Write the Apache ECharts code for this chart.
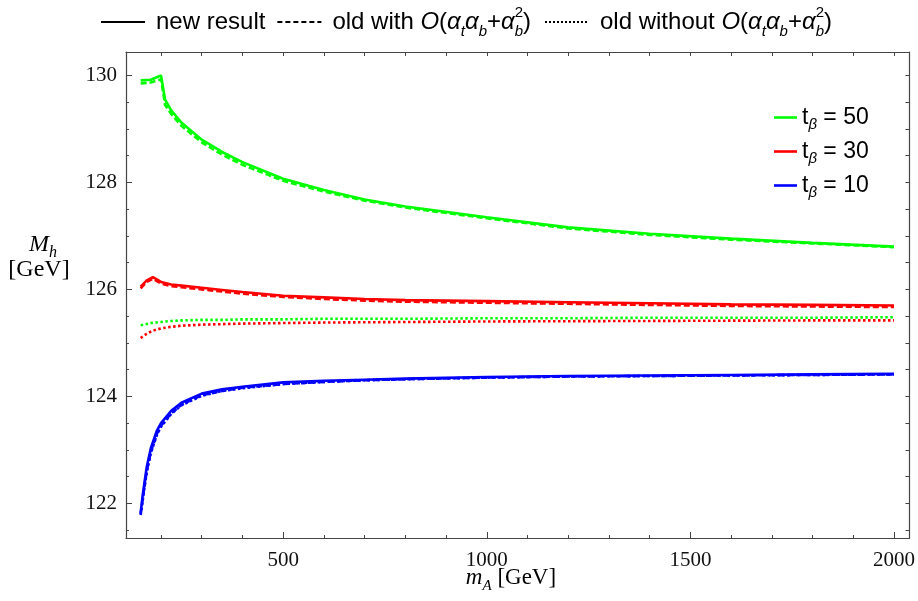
<!DOCTYPE html>
<html><head><meta charset="utf-8">
<script src="https://cdn.jsdelivr.net/npm/echarts@6/dist/echarts.min.js"></script>
<style>html,body{margin:0;padding:0;background:#fff}#c{width:918px;height:601px}</style>
</head><body><div id="c"></div>
<script>
// ---- data ----
const tbValues = [50, 30, 10];
const mA_g = [150,175,200,210,225,250,300,350,400,500,600,700,800,1000,1200,1400,1600,1800,2000];
const g_new        = [129.91,129.92,130.00,129.55,129.35,129.12,128.80,128.57,128.38,128.07,127.86,127.68,127.55,127.35,127.16,127.04,126.95,126.87,126.80];
const g_oldWith    = [129.85,129.87,129.93,129.45,129.28,129.06,128.75,128.52,128.33,128.03,127.83,127.66,127.53,127.33,127.14,127.02,126.93,126.86,126.79];
const g_oldWithout = [125.33,125.37,125.39,125.40,125.41,125.42,125.43,125.43,125.44,125.44,125.45,125.45,125.45,125.46,125.46,125.47,125.47,125.47,125.48];

const mA_r = [150,165,180,200,225,250,300,350,400,500,600,700,800,1000,1200,1400,1600,1800,2000];
const r_new        = [126.05,126.17,126.23,126.14,126.09,126.07,126.03,125.99,125.95,125.88,125.85,125.82,125.80,125.78,125.76,125.74,125.72,125.71,125.70];
const r_oldWith    = [126.02,126.14,126.20,126.11,126.06,126.04,126.00,125.96,125.92,125.86,125.82,125.79,125.77,125.75,125.73,125.71,125.69,125.68,125.67];
const r_oldWithout = [125.09,125.17,125.23,125.27,125.30,125.32,125.34,125.35,125.36,125.37,125.38,125.385,125.39,125.40,125.405,125.41,125.415,125.42,125.42];

const mA_b = [150,155,160,165,175,190,200,225,250,300,350,400,500,600,700,800,1000,1200,1400,1600,1800,2000];
const b_new        = [121.82,122.15,122.42,122.68,123.03,123.36,123.50,123.73,123.88,124.05,124.13,124.18,124.26,124.29,124.31,124.33,124.36,124.38,124.39,124.40,124.41,124.42];
const b_oldWith    = [121.80,122.08,122.35,122.60,122.96,123.30,123.45,123.68,123.84,124.02,124.10,124.16,124.23,124.27,124.30,124.32,124.35,124.37,124.38,124.39,124.40,124.41];
const b_oldWithout = [121.78,122.05,122.33,122.58,122.94,123.28,123.43,123.67,123.83,124.01,124.10,124.15,124.23,124.27,124.30,124.32,124.35,124.37,124.38,124.39,124.40,124.41];

// ---- axis ticks ----
const xRange = [114, 2038];
const yRange = [121.35, 130.44];
const xMajorTicks = [500, 1000, 1500, 2000];
const xMinorTicks = [200,300,400,600,700,800,900,1100,1200,1300,1400,1600,1700,1800,1900];
const xTopTicks = [200,300,400,500,600,700,800,900,1000,1100,1200,1300,1400,1500,1600,1700,1800,1900,2000];
const yMajorTicks = [122, 124, 126, 128, 130];
const yMinorTicks = [121.5,122.5,123,123.5,124.5,125,125.5,126.5,127,127.5,128.5,129,129.5,130];
const yRightTicks = [121.5,122,122.5,123,123.5,124,124.5,125,125.5,126,126.5,127,127.5,128,128.5,129,129.5,130];

const zip = (xs, ys) => xs.map((x, i) => [x, ys[i]]);
const colors = ['#00ff00', '#ff0000', '#0000ff'];
const groups = [
  [mA_g, g_new, g_oldWith, g_oldWithout],
  [mA_r, r_new, r_oldWith, r_oldWithout],
  [mA_b, b_new, b_oldWith, b_oldWithout]
];
const LW = 2.6;
const series = [];
groups.forEach((g, k) => {
  const name = 't_β = ' + tbValues[k];
  series.push({ type:'line', name: name, data: zip(g[0], g[1]), showSymbol:false, symbol:'none',
    lineStyle:{ color: colors[k], width: LW, type:'solid' }, itemStyle:{color: colors[k]}, z: 3 });
  series.push({ type:'line', name: name + ' old with', data: zip(g[0], g[2]), showSymbol:false, symbol:'none',
    lineStyle:{ color: colors[k], width: LW, type:[6,3] }, itemStyle:{color: colors[k]}, z: 4 });
  series.push({ type:'line', name: name + ' old without', data: zip(g[0], g[3]), showSymbol:false, symbol:'none',
    lineStyle:{ color: colors[k], width: LW, type:[2.5,2.5] }, itemStyle:{color: colors[k]}, z: 5 });
});

const axisCol = '#444';
const serif = 'Liberation Serif';
const sans = 'Liberation Sans';
const baseX = { type:'value', min: xRange[0], max: xRange[1], gridIndex:0, splitLine:{show:false} };
const baseY = { type:'value', min: yRange[0], max: yRange[1], gridIndex:0, splitLine:{show:false} };

// ---- top legend layout (measured at runtime) ----
const FS = 24, SS = 15;
const ctx = document.createElement('canvas').getContext('2d');
function tw(t, size, italic) { ctx.font = (italic ? 'italic ' : '') + size + 'px "' + sans + '"'; return ctx.measureText(t).width; }
const mathRich = {
  n:{fontFamily:sans, fontSize:FS, color:'#000'},
  i:{fontFamily:sans, fontSize:FS, fontStyle:'italic', color:'#000'},
  sb:{fontFamily:sans, fontSize:SS, fontStyle:'italic', color:'#000', verticalAlign:'bottom', lineHeight:34}
};
function legendItem(x, label) {
  const els = [];
  const txt = '{n|' + label + ' }{i|O}{n|(}{i|α}{sb|t}{i|α}{sb|b}{n|+}{i|α}{sb|b}{n|)}';
  els.push({ type:'text', x:x, y:22, style:{ text: txt, rich: mathRich, verticalAlign:'middle' } });
  const pre = tw(label + ' ', FS, false) + tw('O', FS, true) + tw('(', FS, false) + tw('α', FS, true) + tw('t', SS, true)
            + tw('α', FS, true) + tw('b', SS, true) + tw('+', FS, false) + tw('α', FS, true);
  els.push({ type:'text', x: x + pre, y: 12.5, style:{ text:'2', fontFamily:sans, fontSize:SS, fill:'#000', verticalAlign:'middle' } });
  const total = pre + tw('b', SS, true) + tw(')', FS, false);
  return { els, end: x + total };
}
const topG = [];
let cx = 101;
topG.push({ type:'line', shape:{x1:cx, y1:22, x2:cx+44, y2:22}, style:{stroke:'#000', lineWidth:2} });
cx += 44 + 11;
topG.push({ type:'text', x:cx, y:22, style:{ text:'new result', fontFamily:sans, fontSize:FS, fill:'#000', verticalAlign:'middle' } });
cx += tw('new result', FS, false) + 12;
topG.push({ type:'line', shape:{x1:cx, y1:22, x2:cx+44, y2:22}, style:{stroke:'#000', lineWidth:2, lineDash:[5,3]} });
cx += 44 + 11;
let it = legendItem(cx, 'old with');
topG.push(...it.els);
cx = it.end + 14;
topG.push({ type:'line', shape:{x1:cx, y1:22, x2:cx+44, y2:22}, style:{stroke:'#000', lineWidth:2, lineDash:[2,2]} });
cx += 44 + 11;
it = legendItem(cx, 'old without');
topG.push(...it.els);

const chart = echarts.init(document.getElementById('c'), null, {renderer:'canvas'});
chart.setOption({
  animation: false,
  backgroundColor: '#fff',
  grid: { left: 126, right: 3, top: 52, bottom: 63, containLabel: false },
  xAxis: [
    Object.assign({}, baseX, { position:'bottom',
      axisLine:{show:true, onZero:false, lineStyle:{color:axisCol, width:1.2}},
      axisTick:{show:true, inside:true, length:6, customValues: xMajorTicks, lineStyle:{color:axisCol}},
      axisLabel:{show:true, customValues: xMajorTicks, formatter: v => String(v), fontFamily:serif, fontSize:21, color:'#111', margin:12} }),
    Object.assign({}, baseX, { position:'bottom',
      axisLine:{show:false, onZero:false},
      axisTick:{show:true, inside:true, length:3, customValues: xMinorTicks, lineStyle:{color:axisCol}},
      axisLabel:{show:false} }),
    Object.assign({}, baseX, { position:'top',
      axisLine:{show:true, onZero:false, lineStyle:{color:axisCol, width:1.2}},
      axisTick:{show:true, inside:true, length:4, customValues: xTopTicks, lineStyle:{color:axisCol}},
      axisLabel:{show:false} })
  ],
  yAxis: [
    Object.assign({}, baseY, { position:'left',
      axisLine:{show:true, onZero:false, lineStyle:{color:axisCol, width:1.2}},
      axisTick:{show:true, inside:true, length:6, customValues: yMajorTicks, lineStyle:{color:axisCol}},
      axisLabel:{show:true, customValues: yMajorTicks, formatter: v => String(v), fontFamily:serif, fontSize:21, color:'#111', margin:9} }),
    Object.assign({}, baseY, { position:'left',
      axisLine:{show:false, onZero:false},
      axisTick:{show:true, inside:true, length:3, customValues: yMinorTicks, lineStyle:{color:axisCol}},
      axisLabel:{show:false} }),
    Object.assign({}, baseY, { position:'right',
      axisLine:{show:true, onZero:false, lineStyle:{color:axisCol, width:1.2}},
      axisTick:{show:true, inside:true, length:4, customValues: yRightTicks, lineStyle:{color:axisCol}},
      axisLabel:{show:false} })
  ],
  legend: {
    data: tbValues.map(v => 't_β = ' + v),
    orient: 'vertical', left: 769, top: 101, itemWidth: 23, itemHeight: 14, itemGap: 7.5,
    icon: 'path://M0,6 L23,6 L23,8.6 L0,8.6 Z',
    formatter: name => '{t|t}{s|β}{t|' + name.slice(3) + '}',
    textStyle: { rich: {
      t:{fontFamily:sans, fontSize:23, color:'#000', lineHeight:26},
      s:{fontFamily:sans, fontSize:15, fontStyle:'italic', color:'#000', verticalAlign:'bottom', lineHeight:30}
    } }
  },
  graphic: topG.concat([
    { type:'text', x:43, y:245, style:{ text:'{i|M}{s|h}', align:'center', verticalAlign:'middle',
        rich:{ i:{fontFamily:serif, fontSize:24, fontStyle:'italic', color:'#000'},
               s:{fontFamily:serif, fontSize:16, fontStyle:'italic', color:'#000', verticalAlign:'bottom', lineHeight:32} } } },
    { type:'text', x:39, y:270, style:{ text:'[GeV]', fontFamily:serif, fontSize:24, fill:'#000', align:'center', verticalAlign:'middle' } },
    { type:'text', x:511, y:578, style:{ text:'{i|m}{s|A}{n| [GeV]}', align:'center', verticalAlign:'middle',
        rich:{ i:{fontFamily:serif, fontSize:23, fontStyle:'italic', color:'#000'},
               s:{fontFamily:serif, fontSize:15, fontStyle:'italic', color:'#000', verticalAlign:'bottom', lineHeight:32},
               n:{fontFamily:serif, fontSize:23, color:'#000'} } } }
  ]),
  series: series
});
</script></body></html>
